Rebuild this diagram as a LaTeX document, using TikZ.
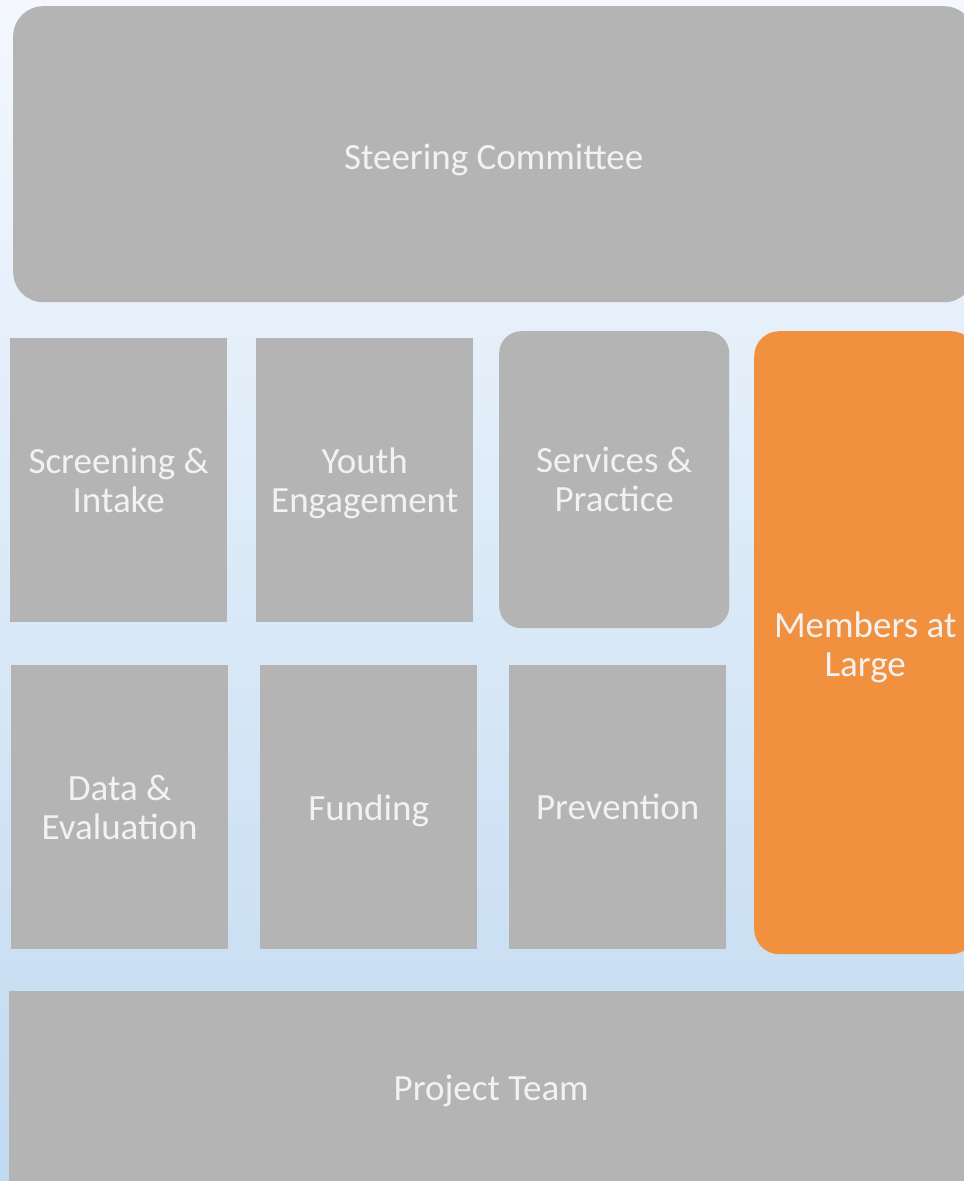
\documentclass[tikz,border=0pt]{standalone}
\usepackage{fontspec}
\setmainfont{Carlito}
\usepackage{xcolor}
\usepackage{tikz}
\usetikzlibrary{positioning}
\definecolor{boxgray}{RGB}{180, 180, 180}
\definecolor{memberorange}{RGB}{241, 145, 63}
\definecolor{bgtop}{RGB}{244, 248, 254}
\definecolor{bgbottom}{RGB}{193, 218, 240}

\newcommand{\lowered}[2]{\raisebox{-#1}[\height][\depth]{#2}}

\tikzset{
  group/.style={fill=boxgray, inner sep=0pt, anchor=north west, align=center,
    text=white!95!black, font=\fontsize{37}{39}\selectfont},
  sqbox/.style={group, minimum width=217pt, minimum height=284pt},
}

\begin{document}
\begin{tikzpicture}[x=1pt, y=1pt]
  \useasboundingbox (0,0) rectangle (964,-1181);
  \shade[top color=bgtop, bottom color=bgbottom] (0,0) rectangle (964,-1181);

  % top
  \node[group, rounded corners=30pt, minimum width=961pt, minimum height=296pt]
    (steering) at (13,-6) {\lowered{6pt}{Steering Committee}};

  % first row
  \node[sqbox] (screening) at (10,-338) {Screening \&\\Intake};
  \node[sqbox] (youth) at (256,-338) {\lowered{3pt}{Youth}\\\lowered{3pt}{Engagement}};
  \node[group, rounded corners=22pt, minimum width=230pt, minimum height=297pt]
    (services) at (499,-331) {Services \&\\Practice};

  % second row
  \node[sqbox] (data) at (11,-665) {Data \&\\Evaluation};
  \node[sqbox] (funding) at (260,-665) {\lowered{4pt}{Funding}};
  \node[sqbox] (prevention) at (509,-665) {Prevention};

  % side column
  \node[group, fill=memberorange, rounded corners=25pt, minimum width=222pt, minimum height=623pt]
    (members) at (754,-331) {\lowered{5pt}{Members at}\\\lowered{5pt}{Large}};

  % bottom
  \node[group, minimum width=964pt, minimum height=200pt]
    (project) at (9,-991) {Project Team};
\end{tikzpicture}
\end{document}
